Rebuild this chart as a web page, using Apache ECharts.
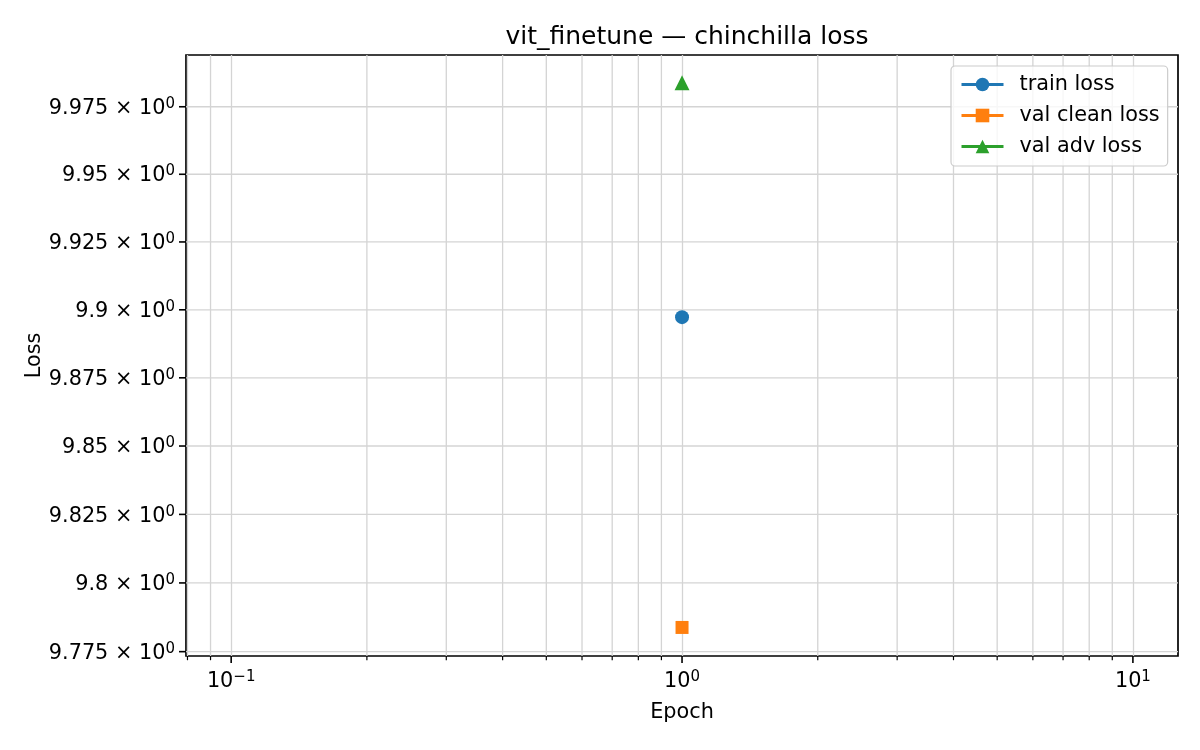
<!DOCTYPE html>
<html>
<head>
<meta charset="UTF-8">
<title>vit_finetune — chinchilla loss</title>
<style>
html, body { margin: 0; padding: 0; background: #fff; }
#main { width: 1200px; height: 750px; }
</style>
</head>
<body>
<div id="main"></div>
<script src="https://cdn.jsdelivr.net/npm/echarts@6/dist/echarts.min.js"></script>
<script>
// data
var epochs = [1];
var trainLoss = [9.8973];
var valCleanLoss = [9.7838];
var valAdvLoss = [9.9839];
var seriesNames = ['train loss', 'val clean loss', 'val adv loss'];
var seriesColors = ['#1f77b4', '#ff7f0e', '#2ca02c'];

// axis ranges and ticks
var xRange = [0.0794, 12.59];
var yRange = [9.77342, 9.99421];
var xMajorTicks = [0.1, 1, 10];
var xMinorTicks = [0.08, 0.09, 0.2, 0.3, 0.4, 0.5, 0.6, 0.7, 0.8, 0.9, 2, 3, 4, 5, 6, 7, 8, 9];
var yTicks = [9.775, 9.8, 9.825, 9.85, 9.875, 9.9, 9.925, 9.95, 9.975];

var FONT = 'DejaVu Sans';
var gridColor = '#d4d4d4';
var tickRich = {
	b : { fontSize : 20.8, fontFamily : FONT, color : '#000', fill : '#000', lineHeight : 24 },
	s : { fontSize : 15, fontFamily : FONT, color : '#000', fill : '#000', verticalAlign : 'top', lineHeight : 17 }
};

function zip(xs, ys) {
	return xs.map(function(x, i) { return [x, ys[i]]; });
}

function yLabel(v) {
	return '{b|' + parseFloat(v.toFixed(3)) + ' \u00d7 10}{s|0}';
}

// x ticks (major + minor) and minor vertical grid lines
function renderXTicks(params, api) {
	var x = api.value(0);
	var major = api.value(2) === 1;
	var bot = api.coord([x, yRange[0]]);
	var top = api.coord([x, yRange[1]]);
	var children = [{
		type : 'line',
		shape : { x1 : bot[0], y1 : bot[1], x2 : bot[0], y2 : bot[1] + (major ? 7 : 4.2) },
		style : { stroke : '#000', lineWidth : major ? 1.6 : 1.2 }
	}];
	if (!major) {
		children.push({
			type : 'line',
			shape : { x1 : top[0], y1 : top[1], x2 : bot[0], y2 : bot[1] },
			style : { stroke : gridColor, lineWidth : 1.3 }
		});
	}
	return { type : 'group', children : children };
}

// y grid lines, ticks and labels on the log axis
function renderYTicks(params, api) {
	var v = api.value(1);
	var l = api.coord([xRange[0], v]);
	var r = api.coord([xRange[1], v]);
	return {
		type : 'group',
		children : [ {
			type : 'line',
			shape : { x1 : l[0], y1 : l[1], x2 : r[0], y2 : r[1] },
			style : { stroke : gridColor, lineWidth : 1.3 }
		}, {
			type : 'line',
			shape : { x1 : l[0] - 7, y1 : l[1], x2 : l[0], y2 : l[1] },
			style : { stroke : '#000', lineWidth : 1.6 }
		}, {
			type : 'text',
			x : l[0] - 11,
			y : l[1] + 1.8,
			style : {
				text : yLabel(v),
				rich : tickRich,
				align : 'right',
				verticalAlign : 'middle'
			}
		} ]
	};
}

var xTickData = xMajorTicks.map(function(v) { return [v, yRange[0], 1]; })
	.concat(xMinorTicks.map(function(v) { return [v, yRange[0], 0]; }));
var yTickData = yTicks.map(function(v) { return [xRange[0], v]; });

var myChart = echarts.init(document.getElementById('main'));
var markerShapes = ['circle', 'rect', 'triangle'];
var markerSizes = [14, 13, 15];
var values = [trainLoss, valCleanLoss, valAdvLoss];

var series = seriesNames.map(function(name, i) {
	return {
		name : name,
		type : 'line',
		data : zip(epochs, values[i]),
		symbol : markerShapes[i],
		symbolSize : markerSizes[i],
		showSymbol : true,
		itemStyle : { color : seriesColors[i] },
		lineStyle : { color : seriesColors[i], width : 3 },
		z : 5,
		animation : false
	};
});
series.push({
	type : 'custom',
	renderItem : renderXTicks,
	data : xTickData,
	clip : false,
	silent : true,
	z : 1,
	animation : false
});
series.push({
	type : 'custom',
	renderItem : renderYTicks,
	data : yTickData,
	clip : false,
	silent : true,
	z : 1,
	animation : false
});

var option = {
	backgroundColor : '#fff',
	animation : false,
	title : {
		text : 'vit_finetune \u2014 chinchilla loss',
		left : 682,
		textAlign : 'center',
		top : 20,
		textStyle : { fontFamily : FONT, fontSize : 25, fontWeight : 'normal', color : '#000' }
	},
	legend : {
		data : seriesNames,
		orient : 'vertical',
		left : 951,
		top : 66,
		itemWidth : 42,
		itemHeight : 17,
		itemGap : 10,
		padding : [ 8, 8, 9, 9 ],
		backgroundColor : 'rgba(255,255,255,0.8)',
		borderColor : '#cccccc',
		borderWidth : 1.2,
		borderRadius : 4,
		lineStyle : { width : 3 },
		textStyle : { fontFamily : FONT, fontSize : 20.8, color : '#000', lineHeight : 20, padding : [ 0, 0, 0, 11 ] }
	},
	grid : {
		left : 186,
		right : 22,
		top : 55,
		bottom : 94,
		show : true,
		borderColor : '#000',
		borderWidth : 1.7,
		backgroundColor : 'transparent'
	},
	xAxis : {
		type : 'log',
		logBase : 10,
		min : xRange[0],
		max : xRange[1],
		name : 'Epoch',
		nameLocation : 'middle',
		nameGap : 46,
		nameTextStyle : { fontFamily : FONT, fontSize : 20.8, color : '#000' },
		axisLine : { show : false },
		axisTick : { show : false },
		axisLabel : {
			margin : 14,
			showMinLabel : false,
			showMaxLabel : false,
			formatter : function(v) {
				var e = Math.round(Math.log10(v));
				return '{b|10}{s|' + (e < 0 ? '\u2212' + (-e) : e) + '}';
			},
			rich : tickRich
		},
		splitLine : { show : true, showMinLine : false, showMaxLine : false, lineStyle : { color : gridColor, width : 1.3 } }
	},
	yAxis : {
		type : 'log',
		logBase : 10,
		min : yRange[0],
		max : yRange[1],
		name : 'Loss',
		nameLocation : 'middle',
		nameGap : 141,
		nameTextStyle : { fontFamily : FONT, fontSize : 20.8, color : '#000' },
		axisLine : { show : false },
		axisTick : { show : false },
		axisLabel : { show : false },
		splitLine : { show : false }
	},
	series : series
};
myChart.setOption(option);
</script>
</body>
</html>
